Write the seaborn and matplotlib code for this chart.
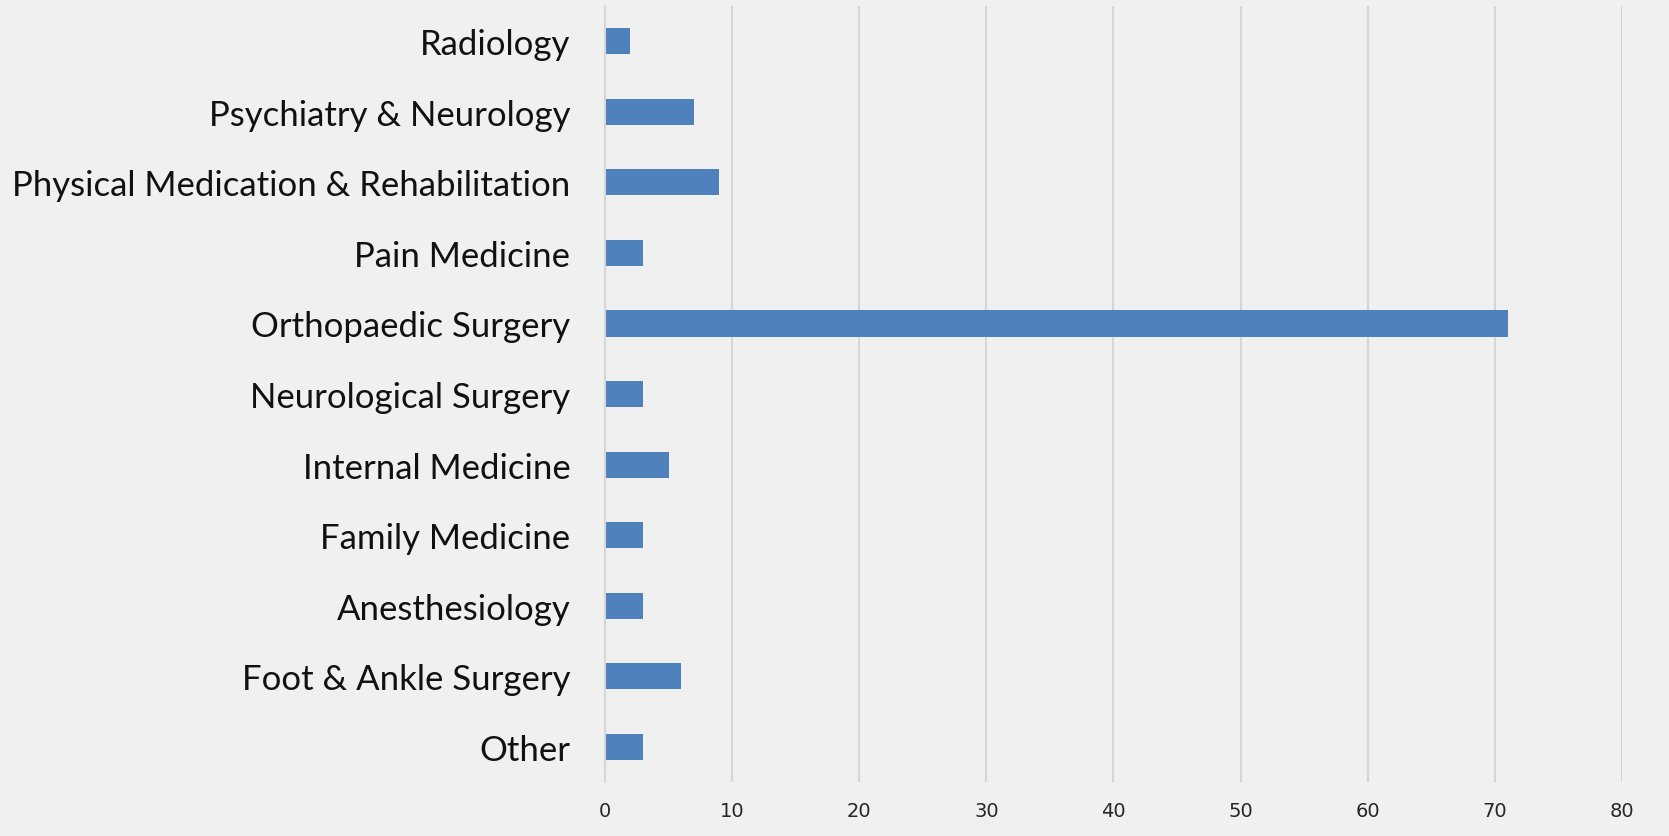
import matplotlib
matplotlib.use('Agg')
import matplotlib.pyplot as plt
import seaborn as sns
import pandas as pd

# Data
specialties = [
    'Radiology',
    'Psychiatry & Neurology',
    'Physical Medication & Rehabilitation',
    'Pain Medicine',
    'Orthopaedic Surgery',
    'Neurological Surgery',
    'Internal Medicine',
    'Family Medicine',
    'Anesthesiology',
    'Foot & Ankle Surgery',
    'Other',
]
counts = [2, 7, 9, 3, 71, 3, 5, 3, 3, 6, 3]
x_ticks = [0, 10, 20, 30, 40, 50, 60, 70, 80]

BAR_COLOR = '#4f81bd'
GRID_COLOR = '#d6d6d6'
BG_COLOR = '#f0f0f0'

df = pd.DataFrame({'Specialty': specialties, 'Count': counts})

sns.set_style('white')
plt.rcParams['font.family'] = ['Lato', 'DejaVu Sans']

fig = plt.figure(figsize=(16.69, 8.37), dpi=100, facecolor=BG_COLOR)
ax = fig.add_axes([0.3625, 0.0645, 0.6093, 0.9271])
ax.set_facecolor('none')

sns.barplot(data=df, x='Count', y='Specialty', orient='h', color=BAR_COLOR,
            width=0.37, saturation=1, edgecolor='none', linewidth=0, ax=ax)

ax.set_xlim(0, 80)
ax.set_ylim(10.5, -0.5)
ax.set_xticks(x_ticks)
ax.set_xticklabels([str(t) for t in x_ticks], fontsize=14,
                   family=['Liberation Sans Narrow', 'DejaVu Sans'])
ax.tick_params(axis='y', labelsize=25, length=0, pad=25)
ax.tick_params(axis='x', length=0, pad=14)
for lbl in ax.get_yticklabels():
    lbl.set_color('#111111')

ax.xaxis.grid(True, color=GRID_COLOR, linewidth=1.5)
ax.set_axisbelow(True)
for side in ['top', 'right', 'bottom']:
    ax.spines[side].set_visible(False)
ax.spines['left'].set_color(GRID_COLOR)
ax.spines['left'].set_linewidth(1.5)
ax.set_xlabel('')
ax.set_ylabel('')

fig.savefig('out.png', dpi=100, facecolor=BG_COLOR)
